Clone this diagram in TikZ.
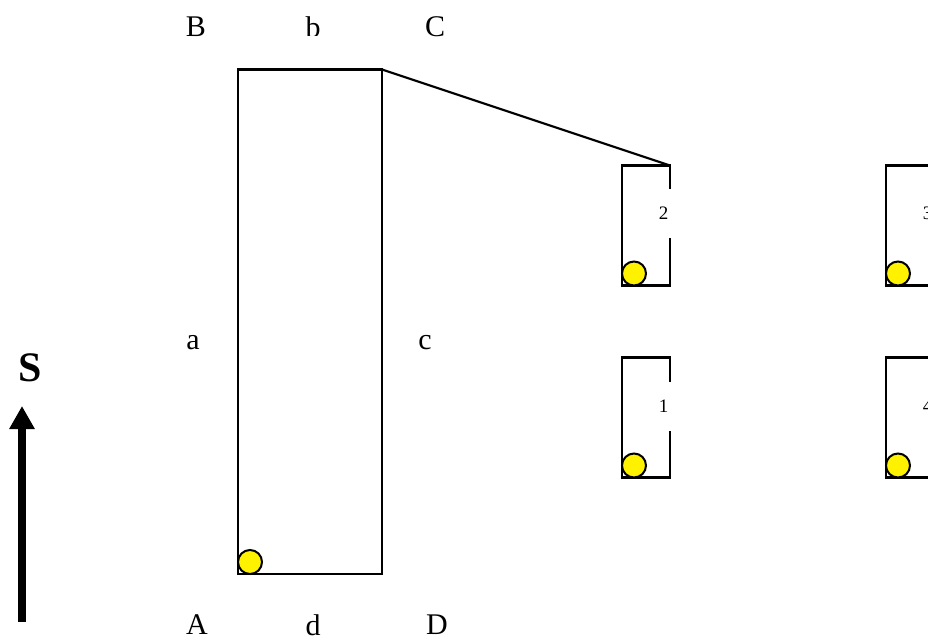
\documentclass[tikz,border=0pt]{standalone}
\usepackage{fontspec}
\setmainfont{Liberation Serif}
\usetikzlibrary{arrows.meta}
\tikzset{
  x=1pt,y=-1pt,
  boxshape/.style={draw=black,line width=2.1pt,fill=white,rectangle,inner sep=0pt,outer sep=0pt,anchor=north west},
  smallbox/.style={boxshape,minimum width=48pt,minimum height=120pt},
  dot/.style={circle,draw=black,line width=2pt,fill=yellow,minimum size=24pt,inner sep=0pt},
  letter/.style={font=\fontsize{30}{30}\selectfont,inner sep=0pt,text=black},
  doorlabel/.style={font=\fontsize{19}{19}\selectfont,fill=white,inner sep=0pt,minimum width=15pt,minimum height=49pt,text=black},
  north/.style={line width=8pt,-{Triangle[length=23pt,width=24pt]}}
}
\begin{document}
\begin{tikzpicture}
\useasboundingbox (0,0) rectangle (928,639);
\node[boxshape,minimum width=144pt,minimum height=504.5pt] (big) at (238,69.5) {};
\node[smallbox] (r2) at (622,165.5) {};
\node[smallbox] (r1) at (622,357.5) {};
\node[smallbox] (r3) at (886,165.5) {};
\node[smallbox] (r4) at (886,357.5) {};
\draw[line width=2.1pt,line join=round] (big.north east) -- (r2.north east);
\node[dot] (c0) at (250,562) {};
\node[dot] (c2) at (634,273.5) {};
\node[dot] (c1) at (634,465.5) {};
\node[dot] (c3) at (898,273.5) {};
\node[dot] (c4) at (898,465.5) {};
\node[doorlabel] (n2) at (663.5,213.5) {2};
\node[doorlabel] (n1) at (663.5,406.5) {1};
\node[doorlabel] (n3) at (927.5,213.5) {3};
\node[doorlabel] (n4) at (927.5,406.5) {4};
\node[letter] (lB) at (196,27) {B};
\begin{scope}
\clip (290,0) rectangle (340,36);
\node[letter] (lb) at (313,27) {b};
\end{scope}
\node[letter] (lC) at (435,27) {C};
\node[letter] (la) at (193,343) {a};
\node[letter] (lc) at (425,343) {c};
\node[letter] (lA) at (197,625) {A};
\node[letter] (ld) at (313,625) {d};
\node[letter] (lD) at (437,625) {D};
\node[font=\fontsize{42}{42}\selectfont\bfseries,inner sep=0pt] (S) at (30,368) {S};
\coordinate (tail) at (22,622);
\coordinate (tip) at (22,406);
\draw[north] (tail) -- (tip);
\end{tikzpicture}
\end{document}
